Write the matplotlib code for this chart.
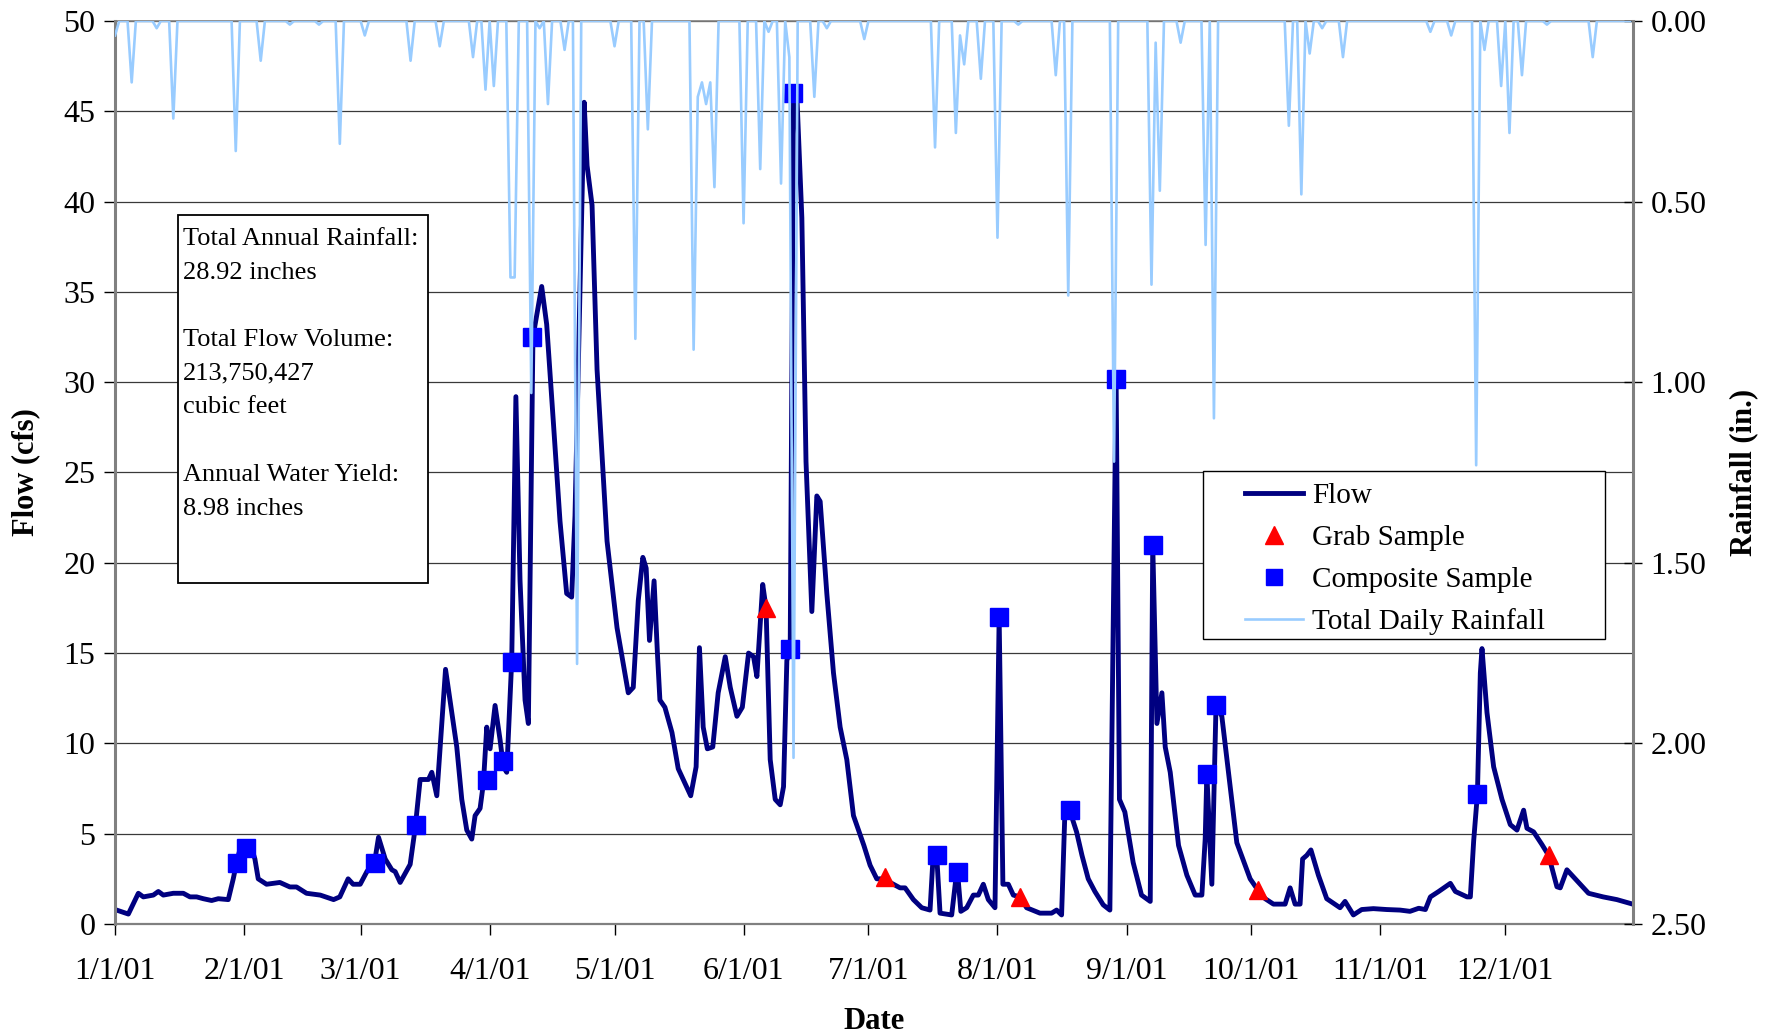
import numpy as np
import matplotlib
matplotlib.use("Agg")
import matplotlib.pyplot as plt
import matplotlib.dates as mdates
from matplotlib.lines import Line2D
from matplotlib.patches import Rectangle

plt.rcParams['font.family'] = ['Liberation Serif', 'DejaVu Serif']

# day offsets are counted from 1/1/01
flow_day = [0, 3.2, 5.6, 6.8, 9.2, 10.4, 11.6, 14, 16.4, 18, 19.6, 21.2, 23.2, 24.8, 27.2,
            28.4, 29.3, 30.2, 31.5, 32.8, 33.6, 34.4, 36.4, 39.6, 42, 43.6, 46, 49.3, 52.5,
            54, 56, 57.2, 58.9, 60.5, 62.4, 63.3, 64.9, 66.5, 67.3, 68.5, 70.9, 72.1, 73.3,
            75.3, 76.1, 77.3, 79.4, 80.9, 82.1, 83.3, 84.5, 85.7, 86.5, 87.7, 88.5, 89.3,
            90.1, 91.3, 92.5, 93.3, 94.1, 95.3, 96.3, 97.3, 98.5, 99.3, 100.4, 102.5, 103.7,
            105.3, 106.9, 108.5, 109.7, 110.5, 112.7, 113.4, 114.6, 115.8, 118.2, 120.6,
            123.3, 124.5, 125.7, 126.8, 127.6, 128.4, 129.5, 130.3, 130.9, 132.1, 133.8,
            135.3, 136.9, 138.3, 139.6, 140.4, 141.3, 142.3, 143.6, 144.9, 146.6, 147.8,
            149.4, 150.7, 152.2, 153.4, 154.2, 155.6, 156.4, 157.4, 158.6, 159.8, 160.6,
            161.4, 162.2, 163.0, 163.8, 165.0, 166.0, 167.4, 168.6, 169.4, 171.0, 172.6,
            174.2, 175.8, 177.4, 179.9, 181.4, 183.0, 185.0, 186.2, 188.6, 189.8, 191.8,
            193.8, 195.8, 196.5, 197.4, 198.2, 201.0, 202.0, 202.4, 203.2, 204.6, 206.2,
            207.4, 208.6, 209.8, 211.4, 212.4, 213.3, 214.6, 215.8, 217.4, 219.0, 222.2,
            225.0, 226.2, 227.4, 228.2, 229.4, 231.0, 232.3, 233.8, 235.4, 237.4, 239.0,
            240.5, 241.3, 242.6, 244.6, 246.6, 248.7, 249.3, 250.3, 251.5, 252.3, 253.5,
            255.5, 257.5, 259.5, 261.1, 261.9, 262.3, 263.5, 264.5, 265.9, 267.5, 269.5,
            272.7, 274.5, 276.3, 278.3, 281.1, 282.3, 283.5, 284.7, 285.3, 286.3, 287.3,
            289.1, 291.1, 294.3, 295.5, 297.5, 299.5, 302.3, 305.5, 308.7, 311.1, 313.2,
            314.8, 316.0, 318.0, 320.8, 322.0, 324.8, 325.6, 326.4, 327.3, 328.0, 328.4,
            329.6, 331.2, 333.2, 335.2, 336.8, 338.4, 339.2, 340.8, 342.8, 344.4, 346.4,
            347.2, 348.8, 350.4, 352.0, 354.0, 357.5, 360.8, 364.6]
flow_cfs = [0.8, 0.55, 1.7, 1.5, 1.6, 1.8, 1.6, 1.7, 1.7, 1.5, 1.5, 1.4, 1.3, 1.4, 1.35,
            2.5, 3.5, 4.3, 4.2, 4.2, 3.6, 2.5, 2.2, 2.3, 2.05, 2.05, 1.7, 1.6, 1.35,
            1.5, 2.5, 2.2, 2.2, 2.9, 3.5, 4.8, 3.6, 3.0, 2.9, 2.3, 3.3, 5.3, 8.0,
            8.0, 8.4, 7.1, 14.1, 11.7, 9.8, 6.9, 5.2, 4.7, 6.0, 6.4, 7.8, 10.9,
            9.7, 12.1, 10.2, 8.7, 8.4, 14.6, 29.2, 19.0, 12.4, 11.1, 32.5, 35.3, 33.2,
            27.8, 22.3, 18.3, 18.1, 22.6, 45.5, 42.0, 39.8, 30.7, 21.2, 16.4,
            12.8, 13.1, 17.9, 20.3, 19.7, 15.7, 19.0, 15.0, 12.4, 12.0, 10.6,
            8.6, 7.8, 7.1, 8.7, 15.3, 10.9, 9.7, 9.8, 12.8, 14.8, 13.1,
            11.5, 12.0, 15.0, 14.8, 13.7, 18.8, 17.5, 9.1, 6.9, 6.6, 7.6,
            14.6, 15.1, 45.7, 45.9, 39.1, 25.6, 17.3, 23.7, 23.4, 18.3, 13.9,
            10.9, 9.1, 6.0, 4.35, 3.25, 2.5, 2.5, 2.3, 2.0, 2.0, 1.35,
            0.9, 0.77, 3.6, 3.8, 0.6, 0.5, 2.5, 2.9, 0.7, 0.9, 1.6,
            1.6, 2.2, 1.35, 0.9, 17.0, 2.2, 2.2, 1.6, 1.5, 0.9, 0.6,
            0.6, 0.77, 0.5, 6.2, 6.25, 5.1, 3.8, 2.5, 1.8, 1.06, 0.77,
            30.2, 6.9, 6.2, 3.4, 1.6, 1.25, 21.0, 11.1, 12.8, 9.8, 8.4,
            4.35, 2.7, 1.6, 1.6, 4.7, 8.3, 2.2, 12.1, 11.5, 8.4, 4.5,
            2.5, 1.9, 1.4, 1.1, 1.1, 2.0, 1.1, 1.1, 3.6, 3.8, 4.1,
            2.7, 1.4, 0.9, 1.25, 0.5, 0.8, 0.85, 0.8, 0.77, 0.7, 0.87,
            0.8, 1.5, 1.8, 2.25, 1.8, 1.5, 1.5, 4.6, 7.2, 13.9, 15.25,
            11.7, 8.7, 6.9, 5.5, 5.2, 6.3, 5.3, 5.1, 4.4, 3.8, 2.06,
            2.0, 3.0, 2.6, 2.2, 1.7, 1.5, 1.35, 1.1]

grab_day = [156.4, 185.0, 217.4, 274.5, 344.4]
grab_cfs = [17.5, 2.6, 1.5, 1.9, 3.8]

comp_day = [29.2, 31.4, 62.4, 72.3, 89.3, 93.3, 95.3, 100.2, 162.1, 162.9, 197.4, 202.4,
            212.4, 229.4, 240.4, 249.3, 262.3, 264.5, 327.3]
comp_cfs = [3.4, 4.2, 3.4, 5.5, 8.0, 9.0, 14.5, 32.5, 15.2, 46.0, 3.8, 2.9,
            17.0, 6.3, 30.2, 21.0, 8.3, 12.1, 7.2]

rain_day = [0, 4, 10, 14, 29, 35, 42, 49, 54, 60, 71, 78, 86, 89, 91, 95, 96, 100, 102,
            104, 108, 111, 120, 125, 128, 139, 140, 141, 142, 143, 144, 151, 155, 157,
            160, 162, 163, 168, 171, 180, 197, 202, 203, 204, 208, 212, 217, 226, 229,
            240, 249, 250, 251, 256, 262, 264, 282, 285, 287, 290, 295, 316, 321, 327,
            329, 333, 335, 338, 344, 355]
rain_in = [0.04, 0.17, 0.02, 0.27, 0.36, 0.11, 0.01, 0.01, 0.34, 0.04, 0.11, 0.07, 0.10,
           0.19, 0.18, 0.71, 0.71, 1.03, 0.02, 0.23, 0.08, 1.78, 0.07, 0.88, 0.30, 0.91,
           0.21, 0.17, 0.23, 0.17, 0.46, 0.56, 0.41, 0.03, 0.45, 0.10, 2.04, 0.21, 0.02,
           0.05, 0.35, 0.31, 0.04, 0.12, 0.16, 0.60, 0.01, 0.15, 0.76, 1.22, 0.73, 0.06,
           0.47, 0.06, 0.62, 1.10, 0.29, 0.48, 0.09, 0.02, 0.10, 0.03, 0.04, 1.23, 0.08,
           0.18, 0.31, 0.15, 0.01, 0.10]

month_labels = ['1/1/01', '2/1/01', '3/1/01', '4/1/01', '5/1/01', '6/1/01',
                '7/1/01', '8/1/01', '9/1/01', '10/1/01', '11/1/01', '12/1/01']

summary = ("Total Annual Rainfall:\n28.92 inches\n\nTotal Flow Volume:\n"
           "213,750,427\ncubic feet\n\nAnnual Water Yield:\n8.98 inches")

start = mdates.date2num(np.datetime64('2001-01-01'))
month_starts = mdates.date2num(
    np.arange('2001-01', '2002-01', dtype='datetime64[M]').astype('datetime64[D]'))

# daily rainfall, zero on days without rain
rain = np.zeros(365)
rain[rain_day] = rain_in

fig = plt.figure(figsize=(17.78, 10.34), dpi=100)
ax = fig.add_axes([0.0647, 0.1064, 0.8538, 0.8733])
ax2 = ax.twinx()

navy = '#000080'
rain_col = '#99CCFF'

ax.plot(start + np.array(flow_day), flow_cfs, color=navy, lw=3.5,
        solid_joinstyle='round', zorder=2)
ax.plot(start + np.array(comp_day), comp_cfs, 's', color='#0000FF', ms=12.5, zorder=3)
ax.plot(start + np.array(grab_day), grab_cfs, '^', color='#FF0000', ms=13, zorder=3)

ax2.plot(start + np.arange(365), rain, color=rain_col, lw=1.9,
         solid_joinstyle='round', zorder=2)

ax.set_xlim(start, start + 364.7)
ax.set_ylim(0, 50)
ax2.set_ylim(2.5, 0)

ax.set_xticks(month_starts)
ax.set_xticklabels(month_labels)
ax.set_yticks(np.arange(0, 51, 5))
ax2.set_yticks(np.arange(0, 2.51, 0.5))
ax2.set_yticklabels(['%.2f' % v for v in np.arange(0, 2.51, 0.5)])

ax.grid(axis='y', color='#3a3a3a', lw=0.9)
ax.set_axisbelow(True)

ax.tick_params(axis='both', labelsize=23, direction='out', length=8, width=1)
ax.tick_params(axis='x', pad=16)
ax.tick_params(axis='y', pad=6)
ax2.tick_params(axis='y', labelsize=23, direction='inout', length=13, width=1, pad=6)

for s in ['left', 'bottom', 'top']:
    ax.spines[s].set_color('#808080')
ax.spines['left'].set_linewidth(2.2)
ax.spines['bottom'].set_linewidth(1.6)
ax.spines['top'].set_linewidth(1.2)
ax.spines['right'].set_visible(False)
for s in ['left', 'bottom', 'top']:
    ax2.spines[s].set_visible(False)
ax2.spines['right'].set_color('#808080')
ax2.spines['right'].set_linewidth(2.2)

ax.set_xlabel('Date', fontsize=22, fontweight='bold')
ax.xaxis.set_label_coords(0.5, -0.108)
ax.xaxis.label.set_va('center')
ax.set_ylabel('Flow (cfs)', fontsize=22, fontweight='bold')
ax.yaxis.set_label_coords(-0.059, 0.5)
ax.yaxis.label.set_va('center')
ax2.set_ylabel('Rainfall (in.)', fontsize=22, fontweight='bold')
ax2.yaxis.set_label_coords(1.073, 0.5)
ax2.yaxis.label.set_va('center')

# summary box
ax2.add_patch(Rectangle((0.0415, 0.3776), 0.1644, 0.4074, transform=ax2.transAxes,
                        facecolor='white', edgecolor='black', lw=1.3, zorder=4))
ax2.text(0.045, 0.771, summary, transform=ax2.transAxes, fontsize=19,
         va='top', ha='left', linespacing=1.69, zorder=5)

# legend box
ax2.add_patch(Rectangle((0.7167, 0.316), 0.2646, 0.186, transform=ax2.transAxes,
                        facecolor='white', edgecolor='black', lw=1.0, zorder=4))
handles = [Line2D([], [], color=navy, lw=3.5),
           Line2D([], [], ls='none', marker='^', color='#FF0000', ms=13),
           Line2D([], [], ls='none', marker='s', color='#0000FF', ms=12),
           Line2D([], [], color=rain_col, lw=1.9)]
labels = ['Flow', 'Grab Sample', 'Composite Sample', 'Total Daily Rainfall']
leg = ax2.legend(handles, labels, loc='upper left', bbox_to_anchor=(0.7444, 0.4885),
                 frameon=False, fontsize=21, borderpad=0, borderaxespad=0,
                 handlelength=2.0, handletextpad=0.3, labelspacing=0.53)
leg.set_zorder(6)

fig.savefig('out.png', dpi=100)
